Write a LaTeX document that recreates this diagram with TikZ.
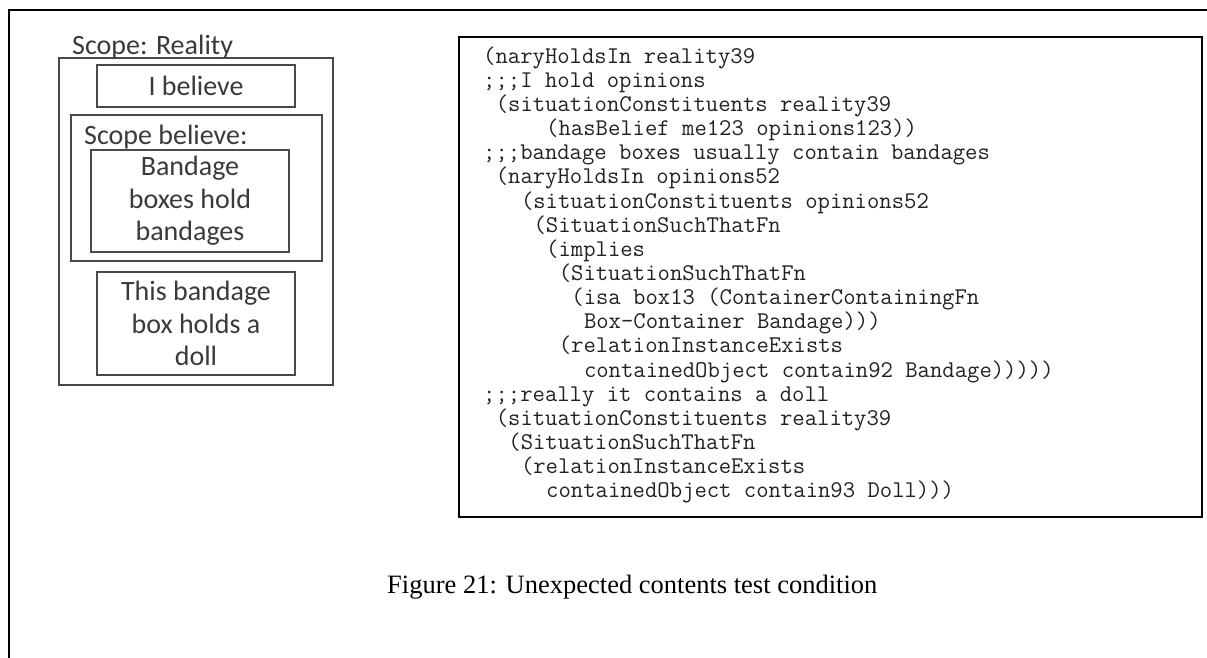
\documentclass[tikz,border=0pt]{standalone}
\usepackage{fontspec}
\setmainfont{Liberation Serif}
\newfontfamily\calfont{Carlito}
\definecolor{boxgray}{HTML}{4A4A4A}
\definecolor{txtgray}{HTML}{3A3A3A}
\definecolor{codegray}{HTML}{222222}
\begin{document}
\begin{tikzpicture}[x=1bp,y=-1bp,
  scopebox/.style={draw=boxgray,line width=1.8bp,inner sep=0pt},
  calbox/.style={draw=boxgray,line width=1.8bp,inner sep=0pt,align=center,text=txtgray,
    font=\calfont\fontsize{28bp}{32.5bp}\selectfont},
  caltext/.style={inner sep=0pt,text=txtgray,font=\calfont\fontsize{28bp}{32.5bp}\selectfont},
  codeline/.style={anchor=base west,inner sep=0pt,text=codegray,font=\ttfamily\fontsize{24bp}{24.1bp}\selectfont},
  caption/.style={anchor=base west,inner sep=0pt,font=\rmfamily\fontsize{26.5bp}{30bp}\selectfont}]
\useasboundingbox (0,0) rectangle (1207,658);
% outer frame (top and left edges)
\coordinate (fa) at (9,658);
\coordinate (fb) at (9,10);
\coordinate (fc) at (1207,10);
\draw[line width=2bp] (fa) -- (fb) -- (fc);
% left diagram
\node[scopebox,minimum width=274bp,minimum height=327bp] (reality) at (196,221.5) {};
\node[caltext,anchor=base west] (realitylbl) at (72,55) {Scope: Reality};
\node[calbox,minimum width=198bp,minimum height=42bp] (ibelieve) at (196,86) {I believe};
\node[scopebox,minimum width=251bp,minimum height=146bp] (believe) at (196.5,188) {};
\node[caltext,anchor=base west] (believelbl) at (84,145) {Scope believe:};
\node[calbox,minimum width=198bp,minimum height=102bp] (bandage) at (190,201) {Bandage\\boxes hold\\bandages};
\node[calbox,minimum width=198bp,minimum height=103bp] (doll) at (196,323.5) {This bandage\\box holds a\\doll};
% code box
\node[draw,line width=2bp,minimum width=743bp,minimum height=480bp,inner sep=0pt] (code) at (830.5,277) {};
\node[codeline] (c1)  at ({483+0*12.6},63.3) {(naryHoldsIn reality39};
\node[codeline] (c2)  at ({483+0*12.6},87.4) {;;;I hold opinions};
\node[codeline] (c3)  at ({483+1*12.6},111.5) {(situationConstituents reality39};
\node[codeline] (c4)  at ({483+5*12.6},135.7) {(hasBelief me123 opinions123))};
\node[codeline] (c5)  at ({483+0*12.6},159.8) {;;;bandage boxes usually contain bandages};
\node[codeline] (c6)  at ({483+1*12.6},183.9) {(naryHoldsIn opinions52};
\node[codeline] (c7)  at ({483+3*12.6},208.1) {(situationConstituents opinions52};
\node[codeline] (c8)  at ({483+4*12.6},232.2) {(SituationSuchThatFn};
\node[codeline] (c9)  at ({483+5*12.6},256.3) {(implies};
\node[codeline] (c10) at ({483+6*12.6},280.4) {(SituationSuchThatFn};
\node[codeline] (c11) at ({483+7*12.6},304.6) {(isa box13 (ContainerContainingFn};
\node[codeline] (c12) at ({483+8*12.6},328.7) {Box-Container Bandage)))};
\node[codeline] (c13) at ({483+6*12.6},352.8) {(relationInstanceExists};
\node[codeline] (c14) at ({483+8*12.6},377.0) {containedObject contain92 Bandage)))))};
\node[codeline] (c15) at ({483+0*12.6},401.1) {;;;really it contains a doll};
\node[codeline] (c16) at ({483+1*12.6},425.2) {(situationConstituents reality39};
\node[codeline] (c17) at ({483+2*12.6},449.3) {(SituationSuchThatFn};
\node[codeline] (c18) at ({483+3*12.6},473.5) {(relationInstanceExists};
\node[codeline] (c19) at ({483+5*12.6},497.6) {containedObject contain93 Doll)))};
% caption
\node[caption] (cap) at (387,593) {Figure 21: Unexpected contents test condition};
\end{tikzpicture}
\end{document}
